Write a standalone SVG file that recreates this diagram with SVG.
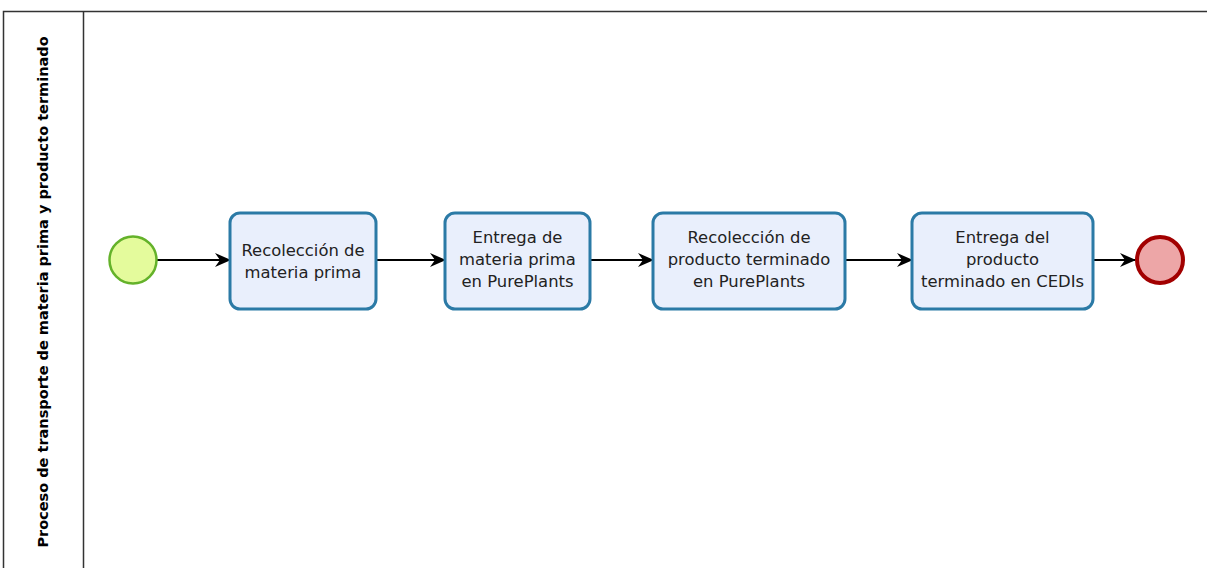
<svg xmlns="http://www.w3.org/2000/svg" width="1207" height="568" viewBox="0 0 1207 568">
  <defs>
    <marker id="arrow" viewBox="0 0 16 14" refX="15" refY="7" markerWidth="16" markerHeight="14" markerUnits="userSpaceOnUse" orient="auto">
      <path d="M0,0 L16,7 L0,14 L5,7 Z" fill="#000"/>
    </marker>
    <style>
      .pool { fill: #fff; stroke: #333; stroke-width: 1.5; }
      .lane-title { font-family: "DejaVu Sans", Verdana, sans-serif; font-size: 14.5px; font-weight: bold; fill: #000; }
      .task { fill: #e9effc; stroke: #2b7aa6; stroke-width: 3; }
      .label { font-family: "DejaVu Sans", Verdana, sans-serif; font-size: 16.4px; fill: #222; text-anchor: middle; }
      .start { fill: #e4fb9c; stroke: #64b22a; stroke-width: 2.5; }
      .end { fill: #eda6a7; stroke: #a20000; stroke-width: 4; }
      .flow { fill: none; stroke: #000; stroke-width: 1.8; marker-end: url(#arrow); }
    </style>
  </defs>
  <rect width="1207" height="568" fill="#fff"/>

  <!-- pool with lane header -->
  <g id="pool">
    <rect class="pool" x="3.5" y="11.5" width="1220" height="580"/>
    <line x1="83.5" y1="11.5" x2="83.5" y2="568" stroke="#333" stroke-width="1.5"/>
    <text class="lane-title" transform="translate(48,292) rotate(-90)" text-anchor="middle">Proceso de transporte de materia prima y producto terminado</text>
  </g>

  <!-- sequence flows -->
  <g id="connectors">
    <line class="flow" x1="157" y1="260" x2="230" y2="260"/>
    <line class="flow" x1="376" y1="260" x2="445" y2="260"/>
    <line class="flow" x1="590" y1="260" x2="653" y2="260"/>
    <line class="flow" x1="845" y1="260" x2="912" y2="260"/>
    <line class="flow" x1="1093" y1="260" x2="1135" y2="260"/>
  </g>

  <g id="start">
    <circle class="start" cx="133" cy="260" r="23.5"/>
  </g>

  <g id="task1">
    <rect class="task" x="230" y="213" width="146" height="96" rx="10"/>
    <text class="label" x="303" y="256">Recolección de</text>
    <text class="label" x="303" y="278">materia prima</text>
  </g>

  <g id="task2">
    <rect class="task" x="445" y="213" width="145" height="96" rx="10"/>
    <text class="label" x="517.5" y="243">Entrega de</text>
    <text class="label" x="517.5" y="265">materia prima</text>
    <text class="label" x="517.5" y="287">en PurePlants</text>
  </g>

  <g id="task3">
    <rect class="task" x="653" y="213" width="192" height="96" rx="10"/>
    <text class="label" x="749" y="243">Recolección de</text>
    <text class="label" x="749" y="265">producto terminado</text>
    <text class="label" x="749" y="287">en PurePlants</text>
  </g>

  <g id="task4">
    <rect class="task" x="912" y="213" width="181" height="96" rx="10"/>
    <text class="label" x="1002.5" y="243">Entrega del</text>
    <text class="label" x="1002.5" y="265">producto</text>
    <text class="label" x="1002.5" y="287">terminado en CEDIs</text>
  </g>

  <g id="end">
    <circle class="end" cx="1160" cy="260" r="23"/>
  </g>
</svg>
